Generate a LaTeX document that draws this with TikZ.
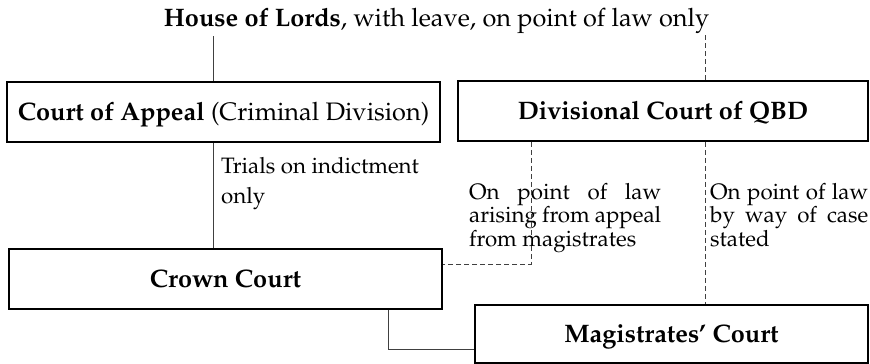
\documentclass[tikz,border=0pt]{standalone}
\usepackage[T1]{fontenc}
\usepackage{mathpazo}
\begin{document}
\begin{tikzpicture}[x=1pt,y=-1pt,
  box/.style={draw, line width=1.6pt, inner sep=0pt, text height=17.5pt, text depth=0pt,
    font=\fontsize{25.3}{30}\selectfont},
  lbl/.style={inner sep=0pt, anchor=base west, align=left,
    font=\fontsize{22.3}{18.8}\selectfont},
  conn/.style={line width=0.7pt, black!75},
  dconn/.style={conn, dash pattern=on 5pt off 3pt}]
\useasboundingbox (0,0) rectangle (870,364);
% title
\node[inner sep=0pt, anchor=base, font=\fontsize{25.3}{30}\selectfont] (hol) at (436.5,27)
  {\textbf{House of Lords}, with leave, on point of law only};
% boxes
\node[box, minimum width=433pt, minimum height=60pt] (coa) at (223.5,112)
  {\textbf{Court of Appeal} (Criminal Division)};
\node[box, minimum width=410pt, minimum height=60pt] (div) at (663,111)
  {\textbf{Divisional Court of QBD}};
\node[box, minimum width=433pt, minimum height=60pt] (crown) at (225.5,279)
  {\textbf{Crown Court}};
\node[box, minimum width=393pt, minimum height=58pt] (mag) at (671.5,334)
  {\textbf{Magistrates' Court}};
% labels (anchor base = baseline of last line)
\node[lbl] (trials) at (221,203.3) {Trials on indictment\\[11.2pt]only};
\node[lbl] (lawapp) at (469,246)
  {\makebox[192pt][s]{On point of law}\\\makebox[192pt][s]{arising from appeal}\\from magistrates};
\node[lbl] (lawcase) at (710,246)
  {\makebox[158pt][s]{On point of law}\\\makebox[158pt][s]{by way of case}\\stated};
% connectors
\coordinate (h1) at (213,36);
\coordinate (h2) at (705,35);
\coordinate (d1) at (531,264);
\coordinate (c1) at (388,349);
\draw[conn] (h1) -- (h1 |- coa.north);
\draw[dconn] (h2) -- (h2 |- div.north);
\draw[conn] (coa.south -| h1) -- (crown.north -| h1);
\draw[dconn] (d1 |- div.south) -- (d1) -- (d1 -| crown.east);
\draw[dconn] (div.south -| h2) -- (mag.north -| h2);
\draw[conn] (c1 |- crown.south) -- (c1) -- (c1 -| mag.west);
\end{tikzpicture}
\end{document}
